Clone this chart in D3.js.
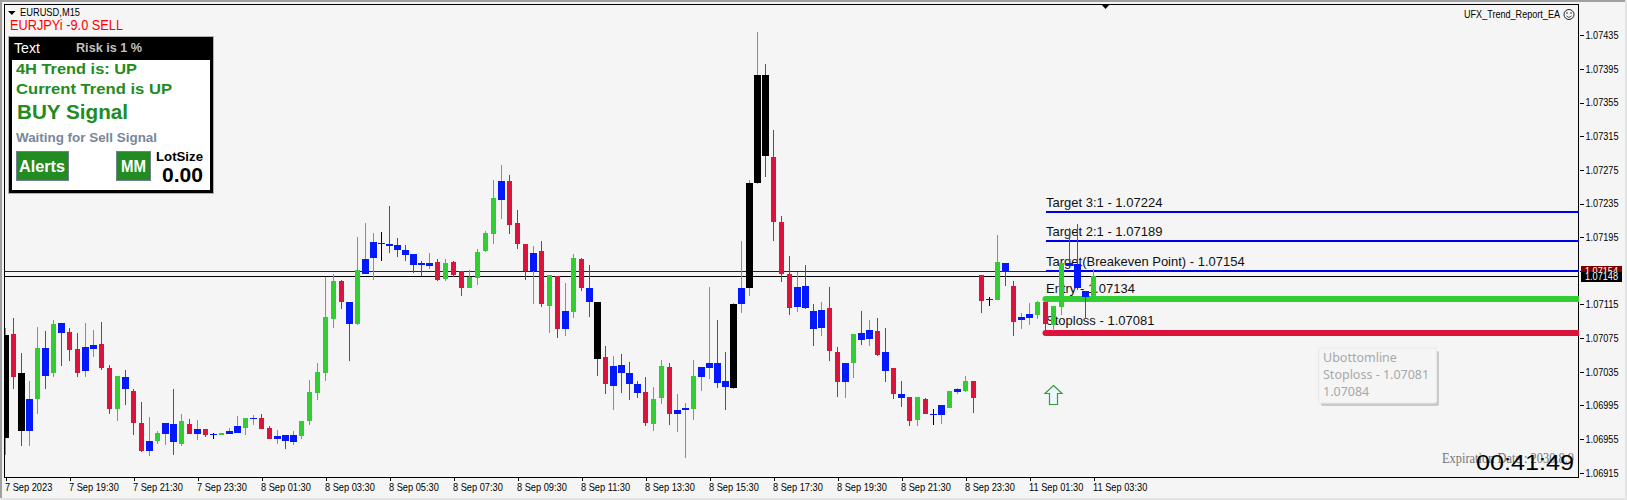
<!DOCTYPE html>
<html><head><meta charset="utf-8">
<style>html,body{margin:0;padding:0;background:#f5f5f5;overflow:hidden}svg{display:block}text{font-family:"Liberation Sans",Arial,sans-serif}</style>
<script src="https://cdnjs.cloudflare.com/ajax/libs/d3/7.8.5/d3.min.js"></script>
</head><body><div id="c"></div>
<script>
// Prices in points (1e-5)
const highs=[107087,107099,107057,107024,107088,107084,107097,107093,107087,107081,107093,107085,107094,107043,107030,107037,107014,106999,106981,106964,106974,107015,106985,106979,106978,106967,106962,106962,106968,106983,106980,106984,106985,106970,106966,106960,106965,106976,107025,107046,
107148,107151,107144,107118,107195,107212,107200,107201,107232,107194,107186,107175,107167,107176,107169,107169,107167,107155,107156,107181,107202,107263,107281,107269,107227,107187,107185,107191,107150,107149,107141,107175,107170,107162,107118,107066,107054,107056,107047,107024,
107029,107017,107049,107046,107009,106998,107049,107041,107136,107097,107059,107117,107191,107263,107439,107401,107323,107220,107173,107154,107162,107115,107118,107136,107064,107046,107080,107107,107096,107099,107087,107040,107024,107005,107005,107004,106991,106995,107012,107016,107030,107024,
107150,107124,107197,107164,107143,107105,107117,107119,107118,107113,107164,107206,107211,107131,107157];
const bodyTops=[107079,107080,107033,107003,107063,107063,107092,107093,107082,107062,107065,107067,107068,107039,107030,107029,107012,106974,106953,106962,106974,106973,106976,106973,106967,106967,106961,106962,106964,106971,106980,106980,106980,106968,106959,106960,106960,106976,107011,107035,
107100,107143,107143,107118,107156,107169,107189,107188,107187,107186,107180,107175,107164,107164,107166,107164,107166,107155,107148,107177,107200,107242,107262,107262,107212,107187,107176,107179,107150,107149,107107,107170,107169,107134,107118,107053,107042,107043,107034,107021,
107011,107003,107042,107041,106990,106992,107030,107041,107045,107045,107024,107116,107135,107260,107388,107388,107290,107213,107151,107136,107137,107107,107109,107111,107059,107045,107080,107081,107085,107084,107058,107040,107009,107005,107005,107003,106985,106995,107012,107014,107024,107024,
107150,107122,107166,107164,107137,107100,107104,107118,107118,107113,107164,107164,107163,107131,107149];
const bodyBottoms=[106956,107029,106964,106964,107003,107030,107033,107081,107061,107034,107036,107062,107039,106991,106991,107014,106974,106941,106941,106953,106961,106951,106949,106961,106961,106960,106960,106960,106961,106962,106968,106979,106967,106955,106955,106953,106952,106959,106976,107010,
107033,107098,107118,107092,107092,107151,107170,107187,107185,107180,107174,107162,107162,107161,107144,107145,107150,107134,107134,107147,107179,107199,107239,107210,107187,107155,107155,107115,107113,107086,107086,107106,107134,107118,107050,107020,107018,107034,107020,107010,
106974,106973,107004,106985,106985,106990,106991,107029,107039,107022,107017,107016,107115,107134,107260,107292,107213,107151,107111,107112,107111,107086,107087,107060,107023,107023,107045,107073,107074,107055,107036,107009,107004,106977,106978,106985,106984,106984,106992,107011,107012,107004,
107119,107120,107120,107154,107094,107096,107099,107103,107092,107091,107112,107161,107134,107124,107124];
const lows=[106936,107014,106947,106947,106985,107014,107029,107042,107048,107029,107029,107052,107037,106985,106976,106996,106960,106940,106935,106949,106948,106936,106947,106961,106954,106957,106955,106960,106961,106962,106960,106972,106967,106955,106949,106943,106948,106955,106972,107002,
107024,107087,107110,107048,107090,107151,107144,107167,107176,107172,107167,107153,107149,107157,107143,107143,107148,107125,107134,107138,107177,107187,107217,107199,107181,107144,107116,107112,107081,107075,107078,107099,107131,107100,107030,107008,106989,107010,107001,107004,
106970,106965,106997,106972,106963,106932,106978,107012,107026,107016,106990,107015,107105,107125,107258,107267,107191,107142,107103,107106,107110,107066,107078,107048,107005,107004,107027,107067,107066,107054,107023,107003,106993,106970,106971,106985,106972,106973,106992,107008,107011,106986,
107105,107113,107120,107137,107077,107086,107091,107098,107082,107084,107103,107159,107132,107098,107124];
// g green, r crimson, b blue, k black
const bodyKinds=["krkbgbgbrr","bbrrgbrrbg","bbgrbrbgbb","gbrrbbbggg","ggrbgbbbbb","bbbbrgrrgg","ggbrrrbrgr","bgrbkrbbbb","rggrbbgbbb","bkbkkkrrrb","bbbrrbgbbr","brbrgrbbgb","grrbgbrbbg","rggbbbg"].join("");
const wickKinds=["grrggrgrrr","ggrrgrrrgg","grgrgrkggg","ggrrgrgggg","ggrrgggkrr","rrrgrgrrgg","gggrrrgrgr","ggrrrrgrrr","rggrgggggr","rggggrrrrg","rrgrrggrgr","rrrrgrkggg","grrkgrrggg","rggrrrg"].join("");
const priceTicks=[1.06915,1.06955,1.06995,1.07035,1.07075,1.07115,1.07155,1.07195,1.07235,1.07275,1.07315,1.07355,1.07395,1.07435];
const timeLabels=["7 Sep 2023","7 Sep 19:30","7 Sep 21:30","7 Sep 23:30","8 Sep 01:30","8 Sep 03:30","8 Sep 05:30","8 Sep 07:30","8 Sep 09:30","8 Sep 11:30","8 Sep 13:30","8 Sep 15:30","8 Sep 17:30","8 Sep 19:30","8 Sep 21:30","8 Sep 23:30","11 Sep 01:30","11 Sep 03:30"];
const barsPerLabel=8;
const levelNames=["Target 3:1 - 1.07224","Target 2:1 - 1.07189","Target(Breakeven Point) - 1.07154","Entry - 1.07134","Stoploss - 1.07081"];
const levelPrices=[1.07225,1.07190,1.07155,1.07122,1.07081];
const levelColors=["#0000e6","#0000e6","#0000e6","#32cd32","#dc143c"];
const levelWidths=[2,2,2,6,6];
const labelOffsets=[5,5,5,6,8];
const levelStart=130;
const bidLine=1.07149, askLine=1.07155;
const panelLines=["4H Trend is: UP","Current Trend is UP","BUY Signal","Waiting for Sell Signal"];

const W=1627,H=500,L=5,T=4,R=1579,B=477;
const col={g:"#32cd32",r:"#dc143c",b:"#0419fb",k:"#000000"};
const svg=d3.select("#c").append("svg").attr("width",W).attr("height",H);
svg.append("rect").attr("width",W).attr("height",H).attr("fill","#f5f5f5");
const fit=(sel,len)=>sel.attr("textLength",len).attr("lengthAdjust","spacingAndGlyphs");
const x=d3.scaleLinear().domain([0,196.75]).range([5.5,1579.5]);
const y=d3.scaleLinear().domain([1.06915,1.07435]).range([472.7,35.3]);
const py=v=>Math.round(y(v));
const px=i=>Math.round(x(i)-0.5);
// window chrome
svg.append("rect").attr("x",0).attr("y",0).attr("width",W).attr("height",2).attr("fill","#a0a0a0");
svg.append("rect").attr("x",0).attr("y",0).attr("width",2).attr("height",H).attr("fill","#a0a0a0");
svg.append("rect").attr("x",1625).attr("y",0).attr("width",2).attr("height",H).attr("fill","#e4e4e4");
svg.append("rect").attr("x",0).attr("y",498).attr("width",W).attr("height",2).attr("fill","#e4e4e4");
// frame
svg.append("rect").attr("x",L-.5).attr("y",T+.5).attr("width",R-L).attr("height",B-T).attr("fill","none").attr("stroke","#000").attr("shape-rendering","crispEdges");
// horizontal price lines
const lineG=svg.append("g").attr("shape-rendering","crispEdges");
lineG.append("line").attr("x1",L).attr("x2",R).attr("y1",py(askLine)+.5).attr("y2",py(askLine)+.5).attr("stroke","#7a0000");
lineG.append("line").attr("x1",L).attr("x2",R).attr("y1",py(bidLine)+.5).attr("y2",py(bidLine)+.5).attr("stroke","#000");
// levels and labels
levelPrices.forEach((p,k)=>{
  const yy=py(p);
  lineG.append("line").attr("x1",x(levelStart)).attr("x2",R).attr("y1",yy).attr("y2",yy)
    .attr("stroke",levelColors[k]).attr("stroke-width",levelWidths[k]);
  svg.append("text").attr("x",x(levelStart)+.5).attr("y",yy-labelOffsets[k]).attr("font-size",13).attr("fill","#111").text(levelNames[k]);
  if(levelWidths[k]>2) svg.append("circle").attr("cx",x(levelStart)).attr("cy",yy).attr("r",3).attr("fill",levelColors[k]);
});
// candles
const idx=d3.range(highs.length);
svg.append("clipPath").attr("id","plot").append("rect").attr("x",L).attr("y",T).attr("width",R-L).attr("height",B-T);
const cg=svg.append("g").attr("shape-rendering","crispEdges").attr("clip-path","url(#plot)");
cg.selectAll("line.w").data(idx).join("line").attr("class","w")
  .attr("x1",i=>px(i)+.5).attr("x2",i=>px(i)+.5)
  .attr("y1",i=>py(highs[i]/1e5)).attr("y2",i=>py(lows[i]/1e5))
  .attr("stroke",i=>col[wickKinds[i]]);
cg.selectAll("rect.b").data(idx).join("rect").attr("class","b")
  .attr("x",i=>px(i)-("bk".includes(bodyKinds[i])?3:2))
  .attr("width",i=>"bk".includes(bodyKinds[i])?7:5)
  .attr("y",i=>py(bodyTops[i]/1e5))
  .attr("height",i=>Math.max(1,py(bodyBottoms[i]/1e5)-py(bodyTops[i]/1e5)))
  .attr("fill",i=>col[bodyKinds[i]]);
// axes
const ya=d3.axisRight(y).tickValues(priceTicks).tickFormat(d3.format(".5f")).tickSize(4).tickPadding(2);
const gy=svg.append("g").attr("transform",`translate(${R+.5},0)`).call(ya);
gy.select(".domain").remove();
gy.selectAll("line").attr("stroke","#000").attr("shape-rendering","crispEdges");
gy.selectAll("text").attr("font-size",10.5).attr("fill","#000").attr("textLength",33).attr("lengthAdjust","spacingAndGlyphs");
const xa=d3.axisBottom(x).tickValues(timeLabels.map((_,i)=>i*barsPerLabel)).tickFormat((_,i)=>timeLabels[i]).tickSize(3).tickPadding(3);
const gx=svg.append("g").attr("transform",`translate(0,${B+.5})`).call(xa);
gx.select(".domain").remove();
gx.selectAll("line").attr("stroke","#000").attr("shape-rendering","crispEdges");
gx.selectAll("text").attr("font-size",10.5).attr("fill","#000").attr("text-anchor","start").attr("dx",-1)
  .each(function(){d3.select(this).attr("textLength",this.getComputedTextLength()*0.88).attr("lengthAdjust","spacingAndGlyphs");});
// price tags
svg.append("rect").attr("x",1581).attr("y",266).attr("width",41).attr("height",7).attr("fill","#7a0000");
fit(svg.append("text").attr("x",1585).attr("y",py(askLine)+4).attr("font-size",10.5).attr("fill","#fff").text("1.07154"),33);
svg.append("rect").attr("x",1581).attr("y",272).attr("width",41).attr("height",10).attr("fill","#000");
fit(svg.append("text").attr("x",1585).attr("y",py(bidLine)+4).attr("font-size",10.5).attr("fill","#fff").text("1.07148"),33);
// top text
svg.append("path").attr("d","M8 11H15.5L11.8 15Z").attr("fill","#000");
svg.append("path").attr("d","M1101 4H1110L1105.5 9Z").attr("fill","#000");
fit(svg.append("text").attr("x",20).attr("y",16).attr("font-size",11).attr("fill","#000").text("EURUSD,M15"),60);
fit(svg.append("text").attr("x",10).attr("y",30).attr("font-size",14).attr("fill","#ff0000").text("EURJPYi -9.0 SELL"),113);
fit(svg.append("text").attr("x",1464).attr("y",18).attr("font-size",11).attr("fill","#000").text("UFX_Trend_Report_EA"),96);
svg.append("circle").attr("cx",1569).attr("cy",14.5).attr("r",5).attr("fill","none").attr("stroke","#222");
svg.append("path").attr("d","M1566.5 16Q1569 19 1571.5 16").attr("fill","none").attr("stroke","#222").attr("stroke-width",.8);
svg.append("circle").attr("cx",1567).attr("cy",13).attr("r",.8).attr("fill","#222");
svg.append("circle").attr("cx",1571).attr("cy",13).attr("r",.8).attr("fill","#222");
// panel
svg.append("rect").attr("x",8.5).attr("y",36.5).attr("width",205).attr("height",157).attr("fill","#000").attr("stroke","#b0b0b0");
svg.append("rect").attr("x",12).attr("y",60).attr("width",198).attr("height",130).attr("fill","#fff");
fit(svg.append("text").attr("x",14).attr("y",53).attr("font-size",14).attr("fill","#fff").text("Text"),26);
fit(svg.append("text").attr("x",76).attr("y",52).attr("font-size",12.5).attr("font-weight","bold").attr("fill","#c0c0c0").text("Risk is 1 %"),66);
const fg="#228b22";
const t=(s,xx,yy,fs,c,len)=>fit(svg.append("text").attr("x",xx).attr("y",yy).attr("font-size",fs).attr("font-weight","bold").attr("fill",c).text(s),len);
t(panelLines[0],16,73.5,14.5,fg,121);
t(panelLines[1],16,94,14.5,fg,156);
t(panelLines[2],17,119,21,fg,111);
t(panelLines[3],16,141.5,13.5,"#778899",141);
svg.append("rect").attr("x",16.5).attr("y",151.5).attr("width",52).attr("height",29).attr("fill",fg).attr("stroke","#708090");
svg.append("rect").attr("x",116.5).attr("y",151.5).attr("width",34).attr("height",29).attr("fill",fg).attr("stroke","#708090");
t("Alerts",19,172,16,"#fff",46);
t("MM",121,172,16,"#fff",25);
t("LotSize",156,161,13,"#000",47);
t("0.00",162,182,20,"#000",41);
// arrow
svg.append("path").attr("d","M1053.5 385.5L1062 393.5H1057.5V404.5H1049.5V393.5H1045Z").attr("fill","#eafaff").attr("stroke","#3c9a3c").attr("stroke-width",1.2);
// tooltip
svg.append("rect").attr("x",1321).attr("y",351).attr("width",118).attr("height",55).attr("rx",2).attr("fill","#b8b8b8").attr("opacity",.7);
svg.append("rect").attr("x",1318.5).attr("y",348).attr("width",118).attr("height",55).attr("rx",2).attr("fill","#f5f5f5").attr("stroke","#e8e8e8");
["Ubottomline","Stoploss - 1.07081","1.07084"].forEach((s,i)=>svg.append("text").attr("x",1323).attr("y",362+i*17).attr("font-size",12.5).attr("fill","#a8a8a8").style("font-family","'Noto Sans',sans-serif").text(s));
// expiry and timer
fit(svg.append("text").attr("x",1442).attr("y",463).attr("font-size",14).attr("fill","#777").style("font-family","'Liberation Serif',serif").text("Expiration Date : 2030.8.9"),132);
fit(svg.append("text").attr("x",1476).attr("y",470).attr("font-size",22).attr("fill","#000").text("00:41:49"),98);
</script></body></html>
